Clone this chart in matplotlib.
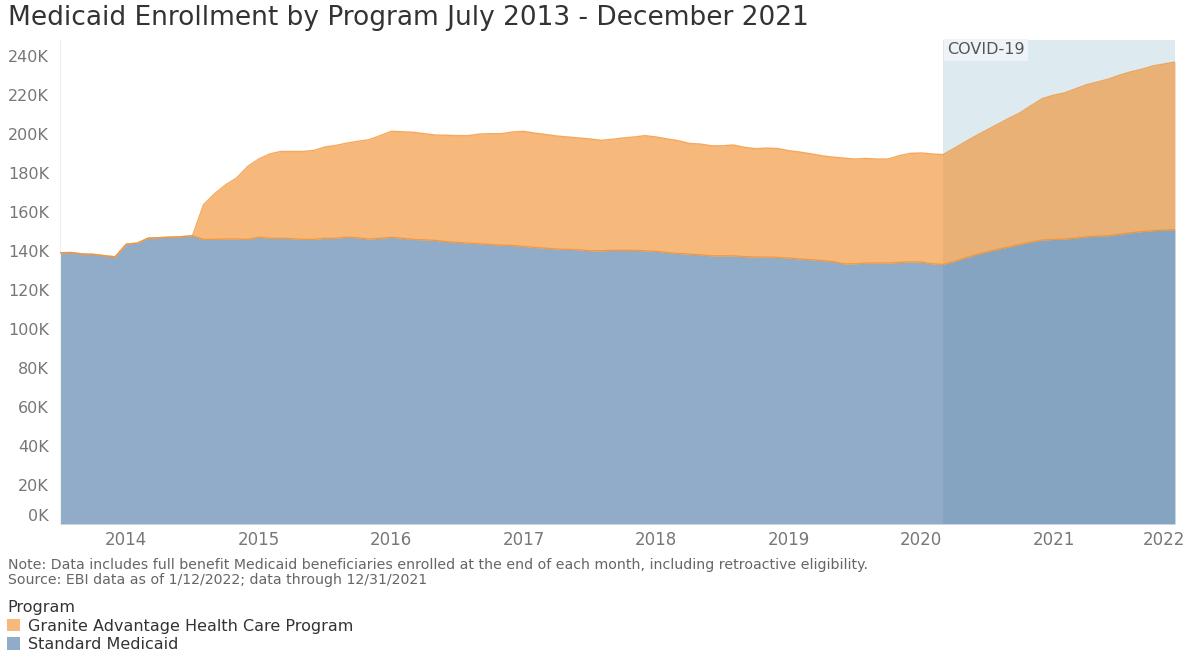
import numpy as np
import matplotlib.pyplot as plt
from matplotlib.patches import Patch

plt.rcParams['font.family'] = ['DejaVu Sans']

# monthly enrollment, Jul 2013 .. Dec 2021 (thousands)
standard = [
    139.0, 139.1, 138.4, 138.2, 137.5, 136.9, 143.4, 143.9, 146.5, 146.7, 147.0, 147.2,
    147.7, 145.8, 145.8, 146.0, 146.0, 145.8, 147.0, 146.4, 146.4, 146.2, 145.8, 145.8,
    146.4, 146.4, 147.0, 146.6, 146.0, 146.4, 146.9, 146.4, 145.8, 145.6, 145.3, 144.7,
    144.3, 143.9, 143.6, 143.2, 142.9, 142.7, 142.2, 141.7, 141.3, 140.9, 140.7, 140.5,
    140.0, 140.0, 140.2, 140.2, 140.2, 140.0, 139.7, 139.1, 138.6, 138.3, 137.9, 137.4,
    137.4, 137.4, 137.0, 136.8, 136.8, 136.6, 136.3, 135.8, 135.4, 135.0, 134.5, 133.3,
    133.3, 133.7, 133.7, 133.7, 134.0, 134.3, 134.2, 133.3, 133.0, 134.5, 136.3, 138.0,
    139.5, 140.8, 142.0, 143.3, 144.5, 145.5, 145.8, 146.0, 146.5, 147.2, 147.5, 147.7,
    148.5, 149.2, 149.8, 150.3, 150.6, 150.8,
]
granite = [
    0.0, 0.0, 0.0, 0.0, 0.0, 0.0, 0.0, 0.0, 0.0, 0.0, 0.0, 0.0,
    0.0, 17.8, 23.4, 27.8, 31.3, 37.4, 40.0, 43.2, 44.5, 44.7, 45.1, 45.6,
    46.8, 47.6, 48.2, 49.5, 50.9, 52.6, 54.3, 54.6, 54.9, 54.4, 54.0, 54.5,
    54.7, 55.1, 56.2, 56.8, 57.1, 58.2, 59.0, 58.6, 58.3, 57.9, 57.6, 57.3,
    57.3, 56.6, 56.9, 57.6, 58.1, 59.0, 58.6, 58.2, 57.8, 56.7, 56.8, 56.4,
    56.4, 56.8, 56.0, 55.5, 55.8, 55.8, 55.0, 54.8, 54.3, 53.7, 53.5, 54.2,
    53.7, 53.6, 53.3, 53.3, 54.7, 55.6, 55.9, 56.3, 56.3, 58.0, 59.5, 61.0,
    62.5, 64.2, 66.0, 67.5, 70.0, 72.5, 73.9, 74.9, 76.5, 77.9, 79.0, 80.3,
    81.5, 82.5, 83.2, 84.4, 85.1, 85.9,
]
years = ['2014', '2015', '2016', '2017', '2018', '2019', '2020', '2021', '2022']
covid_start = 80  # Mar 2020

blue = '#4E79A7'
orange = '#F28E2B'

std = np.array(standard) * 1000
gra = np.array(granite) * 1000
x = np.arange(len(std))

fig = plt.figure(figsize=(11.94, 6.52), dpi=100)
ax = fig.add_axes([60 / 1194, 128 / 652, 1115 / 1194, 484 / 652])

ax.axvspan(covid_start, len(std) - 1, color='#DDEAF0', zorder=0, lw=0)
ax.text(covid_start + 0.35, 246800, 'COVID-19', fontsize=11.5, color='#555555', va='top', ha='left',
        bbox=dict(boxstyle='square,pad=0.2', fc='#EDF3F6', ec='none'), zorder=5)

ax.fill_between(x, 0, std, color=blue, alpha=0.62, lw=0, zorder=2)
ax.fill_between(x, std, std + gra, color=orange, alpha=0.62, lw=0, zorder=2)
ax.plot(x, std, color=orange, lw=1.0, alpha=0.75, zorder=3)
ax.plot(x, std + gra, color=orange, lw=1.0, alpha=0.75, zorder=3)

ax.set_xlim(0, len(std) - 1)
ax.set_ylim(0, 248000)

yt = np.arange(0, 240001, 20000)
ax.set_yticks(yt)
ax.set_yticklabels([f'{int(v / 1000)}K' for v in yt], fontsize=11.5, color='#777777')
ax.get_yticklabels()[0].set_va('bottom')

xt = [6 + 12 * k for k in range(8)] + [100]
ax.set_xticks(xt)
ax.set_xticklabels(years, fontsize=12, color='#777777')

ax.tick_params(length=0, pad=8)
ax.tick_params(axis='x', pad=5)
for s in ['top', 'right', 'bottom']:
    ax.spines[s].set_visible(False)
ax.spines['left'].set_color('#EEEEEE')

fig.text(8 / 1194, 1 - 18 / 652, 'Medicaid Enrollment by Program July 2013 - December 2021',
         fontsize=19, color='#333333', va='center', ha='left')

fig.text(8 / 1194, 1 - 565 / 652,
         'Note: Data includes full benefit Medicaid beneficiaries enrolled at the end of each month, '
         'including retroactive eligibility.', fontsize=10.2, color='#666666', va='center')
fig.text(8 / 1194, 1 - 580 / 652, 'Source: EBI data as of 1/12/2022; data through 12/31/2021',
         fontsize=10.2, color='#666666', va='center')

handles = [Patch(facecolor=orange, alpha=0.62, lw=0), Patch(facecolor=blue, alpha=0.62, lw=0)]
leg = fig.legend(handles, ['Granite Advantage Health Care Program', 'Standard Medicaid'],
                 loc='upper left', bbox_to_anchor=(7 / 1194, 1 - 600 / 652), frameon=False,
                 title='Program', alignment='left', fontsize=11.5, title_fontsize=11.5,
                 handlelength=0.8, handleheight=0.8, handletextpad=0.5, labelspacing=0.22,
                 borderpad=0.0, borderaxespad=0)
for t in leg.get_texts():
    t.set_color('#333333')
leg.get_title().set_color('#333333')

fig.savefig('out.png', dpi=100)
